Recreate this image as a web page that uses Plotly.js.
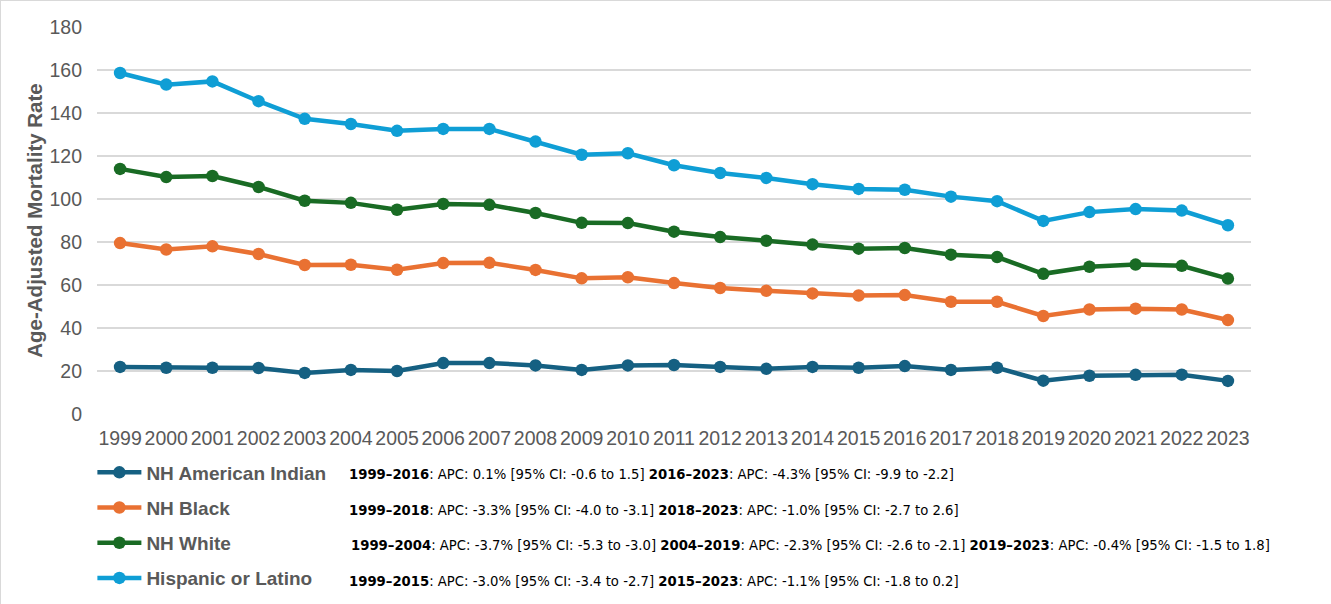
<!DOCTYPE html>
<html>
<head>
<meta charset="utf-8">
<script src="https://cdn.plot.ly/plotly-3.0.1.min.js"></script>
<style>
html,body{margin:0;padding:0;background:#fff;}
#chart{width:1331px;height:604px;box-sizing:border-box;border:1.5px solid #d9d9d9;}
</style>
</head>
<body>
<div id="chart"></div>
<script>
const years = [1999,2000,2001,2002,2003,2004,2005,2006,2007,2008,2009,2010,2011,2012,2013,2014,2015,2016,2017,2018,2019,2020,2021,2022,2023];
const americanIndian = [21.9,21.5,21.5,21.4,19.1,20.5,20.0,23.7,23.7,22.6,20.5,22.6,22.8,21.9,21.0,21.9,21.5,22.3,20.5,21.5,15.5,17.8,18.2,18.3,15.4];
const black = [79.5,76.5,78.0,74.4,69.3,69.4,67.1,70.2,70.3,67.0,63.1,63.6,60.9,58.6,57.3,56.1,55.1,55.3,52.2,52.2,45.6,48.6,49.0,48.6,43.7];
const white = [114.0,110.2,110.7,105.6,99.2,98.2,95.0,97.7,97.3,93.5,88.9,88.8,84.8,82.3,80.6,78.8,76.9,77.2,74.1,73.0,65.2,68.5,69.5,68.9,63.0];
const hispanic = [158.6,153.2,154.7,145.5,137.3,134.9,131.7,132.6,132.6,126.7,120.6,121.3,115.7,112.1,109.8,106.9,104.7,104.3,101.1,99.0,89.8,93.9,95.3,94.6,87.8];
const seriesNames = ["NH American Indian","NH Black","NH White","Hispanic or Latino"];
const seriesColors = ["#156082","#E97132","#196B24","#0F9ED5"];
const apcTexts = [
  "<b>1999–2016</b>: APC: 0.1% [95% CI: -0.6 to 1.5] <b>2016–2023</b>: APC: -4.3% [95% CI: -9.9 to -2.2]",
  "<b>1999–2018</b>: APC: -3.3% [95% CI: -4.0 to -3.1] <b>2018–2023</b>: APC: -1.0% [95% CI: -2.7 to 2.6]",
  "<b>1999–2004</b>: APC: -3.7% [95% CI: -5.3 to -3.0] <b>2004–2019</b>: APC: -2.3% [95% CI: -2.6 to -2.1] <b>2019–2023</b>: APC: -0.4% [95% CI: -1.5 to 1.8]",
  "<b>1999–2015</b>: APC: -3.0% [95% CI: -3.4 to -2.7] <b>2015–2023</b>: APC: -1.1% [95% CI: -1.8 to 0.2]"
];
const yTicks = [0,20,40,60,80,100,120,140,160,180];

const allSeries = [americanIndian, black, white, hispanic];
const traces = allSeries.map((vals, i) => ({
  x: years, y: vals, type: 'scatter', mode: 'lines+markers',
  name: seriesNames[i], legendgroup: 'g' + i,
  line: {color: seriesColors[i], width: 4.5},
  marker: {color: seriesColors[i], size: 12.5},
  hoverinfo: 'skip'
}));

const apcY = [-0.155, -0.246, -0.338, -0.429];
const apcX = [0.2165, 0.2165, 0.2185, 0.2165];
const annotations = apcTexts.map((t, i) => ({
  text: t, xref: 'paper', yref: 'paper', x: apcX[i], y: apcY[i],
  xanchor: 'left', yanchor: 'middle', showarrow: false,
  font: {family: '"DejaVu Sans Condensed", "Liberation Sans", Arial, sans-serif', size: 14.7, color: '#000'}
}));

const layout = {
  width: 1331, height: 604,
  margin: {l: 96, r: 81, t: 26, b: 191, autoexpand: false},
  paper_bgcolor: '#fff', plot_bgcolor: '#fff',
  font: {family: '"Liberation Sans", Arial, sans-serif', color: '#595959'},
  showlegend: true,
  legend: {
    x: -0.004, y: -0.102, xanchor: 'left', yanchor: 'top',
    orientation: 'v', tracegroupgap: 7.5, traceorder: 'grouped', itemwidth: 44,
    font: {size: 19, color: '#595959', family: '"Liberation Sans", Arial, sans-serif', weight: 'bold'},
    bgcolor: 'rgba(0,0,0,0)'
  },
  xaxis: {
    range: [1998.5, 2023.5], tickmode: 'array', tickvals: years, ticktext: years.map(String),
    showgrid: false, zeroline: false, showline: false, ticks: '', ticklabelstandoff: 10,
    tickfont: {size: 19.5, color: '#595959'}, fixedrange: true
  },
  yaxis: {
    range: [0, 180], tickmode: 'array', tickvals: yTicks,
    showgrid: true, gridcolor: '#d9d9d9', gridwidth: 1.5, zeroline: false, showline: false,
    ticks: '', ticklabelstandoff: 14,
    tickfont: {size: 19.5, color: '#595959'},
    title: {text: '<b>Age-Adjusted Mortality Rate</b>', font: {size: 20.5, color: '#595959'}, standoff: 1},
    fixedrange: true
  },
  annotations: annotations
};

Plotly.newPlot('chart', traces, layout, {displayModeBar: false, staticPlot: true});
</script>
</body>
</html>
